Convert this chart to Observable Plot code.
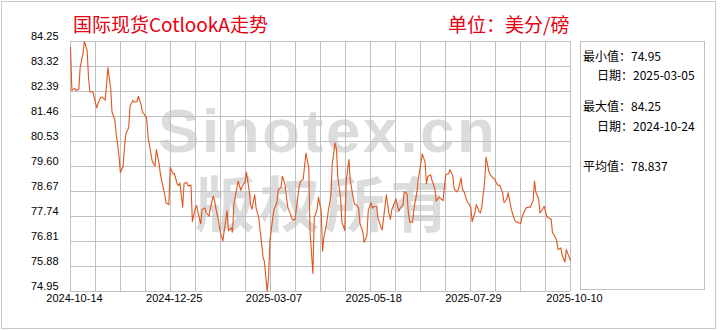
<!DOCTYPE html>
<html><head><meta charset="utf-8">
<script src="https://cdn.jsdelivr.net/npm/d3@7"></script>
<script src="https://cdn.jsdelivr.net/npm/@observablehq/plot@0.6"></script>
<style>
body{margin:0;background:#fff;}
#wrap{position:relative;width:720px;height:330px;overflow:hidden;background:#fff;}
#border{position:absolute;left:1px;top:1px;width:713px;height:326px;border:1px solid #c8c8c8;box-sizing:content-box;}
#chart{position:absolute;left:0;top:0;}
.t{position:absolute;white-space:nowrap;font-family:"Noto Sans CJK SC",sans-serif;line-height:1;}
.title{color:#e60012;font-size:19px;}
.stat{font-size:12px;color:#000;}
#panel{position:absolute;left:580px;top:41px;width:125px;height:249px;border:1px solid #c0c0c0;box-sizing:border-box;}
.wm{position:absolute;white-space:nowrap;color:#dcdcdc;line-height:1;}
</style></head>
<body>
<div id="wrap">
  <div class="wm" id="wm1" style="left:158px;top:100px;font-family:'Liberation Sans',Arial,sans-serif;font-weight:bold;font-size:62px;letter-spacing:2.6px;"></div>
  <div class="wm" id="wm2" style="left:195px;top:171px;font-family:'Noto Sans CJK SC',sans-serif;font-weight:bold;font-size:60px;letter-spacing:5px;"></div>
  <div id="chart"></div>
  <div id="border"></div>
  <div class="t title" id="title" style="left:73px;top:14px;"></div>
  <div class="t title" id="unit" style="left:448px;top:14px;"></div>
  <div id="panel"></div>
  <div class="t stat" id="s1" style="left:583px;top:50px;"></div>
  <div class="t stat" id="s2" style="left:597px;top:69px;"></div>
  <div class="t stat" id="s3" style="left:583px;top:100px;"></div>
  <div class="t stat" id="s4" style="left:597px;top:120px;"></div>
  <div class="t stat" id="s5" style="left:583px;top:160px;"></div>
</div>
<script>
const titleText = "国际现货CotlookA走势";
const unitText = "单位：美分/磅";
const watermark = ["Sinotex.cn", "版权所有"];
const statNames = ["最小值", "最大值", "平均值"];
const dateLabel = "日期";
const statValues = ["74.95", "84.25", "78.837"];
const statDates = ["2025-03-05", "2024-10-24"];

const yTicks = [74.95, 75.88, 76.81, 77.74, 78.67, 79.60, 80.53, 81.46, 82.39, 83.32, 84.25];
const xTickLabels = ["2024-10-14", "2024-12-25", "2025-03-07", "2025-05-18", "2025-07-29", "2025-10-10"];

const dates = [
"2024-10-14","2024-10-15","2024-10-17","2024-10-18","2024-10-20","2024-10-21","2024-10-23","2024-10-24","2024-10-26","2024-10-27",
"2024-10-28","2024-10-30","2024-10-31","2024-11-02","2024-11-03","2024-11-05","2024-11-06","2024-11-08","2024-11-09","2024-11-10",
"2024-11-12","2024-11-13","2024-11-15","2024-11-16","2024-11-18","2024-11-19","2024-11-21","2024-11-22","2024-11-23","2024-11-25",
"2024-11-26","2024-11-28","2024-11-29","2024-12-01","2024-12-02","2024-12-04","2024-12-05","2024-12-06","2024-12-08","2024-12-09",
"2024-12-11","2024-12-12","2024-12-14","2024-12-15","2024-12-17","2024-12-18","2024-12-19","2024-12-21","2024-12-22","2024-12-24",
"2024-12-25","2024-12-27","2024-12-28","2024-12-30","2024-12-31","2025-01-01","2025-01-03","2025-01-04","2025-01-06","2025-01-07",
"2025-01-09","2025-01-10","2025-01-12","2025-01-13","2025-01-14","2025-01-16","2025-01-17","2025-01-19","2025-01-20","2025-01-22",
"2025-01-23","2025-01-25","2025-01-26","2025-01-27","2025-01-29","2025-01-30","2025-02-01","2025-02-02","2025-02-04","2025-02-05",
"2025-02-07","2025-02-08","2025-02-09","2025-02-11","2025-02-12","2025-02-14","2025-02-15","2025-02-17","2025-02-18","2025-02-20",
"2025-02-21","2025-02-22","2025-02-24","2025-02-25","2025-02-27","2025-02-28","2025-03-02","2025-03-03","2025-03-05","2025-03-06",
"2025-03-07","2025-03-09","2025-03-10","2025-03-12","2025-03-13","2025-03-15","2025-03-16","2025-03-18","2025-03-19","2025-03-20",
"2025-03-22","2025-03-23","2025-03-25","2025-03-26","2025-03-28","2025-03-29","2025-03-31","2025-04-01","2025-04-02","2025-04-04",
"2025-04-05","2025-04-07","2025-04-08","2025-04-10","2025-04-11","2025-04-13","2025-04-14","2025-04-15","2025-04-17","2025-04-18",
"2025-04-20","2025-04-21","2025-04-23","2025-04-24","2025-04-25","2025-04-27","2025-04-28","2025-04-30","2025-05-01","2025-05-03",
"2025-05-04","2025-05-06","2025-05-07","2025-05-08","2025-05-10","2025-05-11","2025-05-13","2025-05-14","2025-05-16","2025-05-17",
"2025-05-19","2025-05-20","2025-05-21","2025-05-23","2025-05-24","2025-05-26","2025-05-27","2025-05-29","2025-05-30","2025-06-01",
"2025-06-02","2025-06-03","2025-06-05","2025-06-06","2025-06-08","2025-06-09","2025-06-11","2025-06-12","2025-06-14","2025-06-15",
"2025-06-16","2025-06-18","2025-06-19","2025-06-21","2025-06-22","2025-06-24","2025-06-25","2025-06-27","2025-06-28","2025-06-29",
"2025-07-01","2025-07-02","2025-07-04","2025-07-05","2025-07-07","2025-07-08","2025-07-10","2025-07-11","2025-07-12","2025-07-14",
"2025-07-15","2025-07-17","2025-07-18","2025-07-20","2025-07-21","2025-07-23","2025-07-24","2025-07-25","2025-07-27","2025-07-28",
"2025-07-30","2025-07-31","2025-08-02","2025-08-03","2025-08-05","2025-08-06","2025-08-07","2025-08-09","2025-08-10","2025-08-12",
"2025-08-13","2025-08-15","2025-08-16","2025-08-18","2025-08-19","2025-08-20","2025-08-22","2025-08-23","2025-08-25","2025-08-26",
"2025-08-28","2025-08-29","2025-08-31","2025-09-01","2025-09-02","2025-09-04","2025-09-05","2025-09-07","2025-09-08","2025-09-10",
"2025-09-11","2025-09-13","2025-09-14","2025-09-15","2025-09-17","2025-09-18","2025-09-20","2025-09-21","2025-09-23","2025-09-24",
"2025-09-26","2025-09-27","2025-09-28","2025-09-30","2025-10-01","2025-10-03","2025-10-04","2025-10-06","2025-10-07","2025-10-09",
"2025-10-10"
];
const prices = [
84.04,82.43,82.51,82.43,82.47,83.30,83.79,84.25,83.92,82.92,
82.37,82.39,82.20,81.78,81.97,82.18,82.17,82.07,82.61,83.28,
82.51,81.62,81.35,80.81,80.01,79.38,79.61,80.33,80.83,81.04,
81.84,82.06,81.99,82.02,82.22,81.89,81.61,81.56,81.40,80.69,
80.10,79.80,79.62,80.23,79.70,79.29,79.04,78.56,78.24,78.18,
79.57,79.33,79.34,78.95,78.89,78.99,78.09,78.98,79.00,78.88,
78.91,77.55,78.03,78.15,77.90,77.47,78.00,78.06,77.88,77.75,
78.03,78.50,78.33,78.03,77.55,77.18,76.83,77.22,77.96,77.21,
77.32,77.16,78.21,78.77,79.06,78.71,78.87,79.02,79.39,78.71,
78.19,78.01,78.55,78.05,77.68,77.19,76.23,76.07,74.95,75.48,
76.85,77.68,78.00,78.25,78.73,78.83,79.24,78.91,78.43,78.06,
77.80,77.64,77.61,78.00,78.83,79.04,79.13,79.60,80.10,79.57,
77.16,75.62,77.69,77.99,78.46,77.96,76.45,76.97,77.49,77.90,
78.52,79.70,80.48,80.26,79.20,78.42,77.53,77.22,79.02,79.86,
79.08,78.46,78.21,78.19,78.06,77.47,77.19,76.78,77.03,77.96,
78.26,78.05,78.11,78.11,77.69,77.37,77.24,78.09,78.55,77.84,
77.63,78.00,78.25,78.40,77.93,78.05,78.15,78.67,78.58,77.84,
77.53,77.53,78.03,78.61,79.08,79.74,80.07,79.76,78.95,79.23,
79.29,79.09,78.79,78.31,78.46,78.42,78.33,78.86,79.30,79.33,
79.48,79.26,78.77,78.66,78.73,79.18,78.74,78.68,78.36,78.25,
78.09,77.55,77.88,78.19,77.93,77.88,78.12,79.02,79.95,79.43,
79.30,79.18,79.14,78.94,78.89,78.90,78.62,78.25,78.40,78.62,
78.09,77.87,77.57,77.54,77.53,77.47,77.72,77.96,78.06,78.09,
78.09,78.33,79.06,78.64,78.40,77.87,78.03,78.12,77.72,77.69,
77.65,77.13,77.07,76.85,76.51,76.57,76.29,76.05,76.51,76.23,
76.10
];

const parse = d3.utcParse("%Y-%m-%d");
const data = dates.map((d, i) => ({date: parse(d), value: prices[i]}));
const x0 = parse(xTickLabels[0]), x1 = parse(xTickLabels[xTickLabels.length - 1]);
const gridDates = d3.range(21).map(j => new Date(+x0 + j * (x1 - x0) / 20));
const tickDates = xTickLabels.map(parse);

const chart = Plot.plot({
  width: 720, height: 330,
  marginLeft: 70, marginRight: 150, marginTop: 41, marginBottom: 39,
  style: {background: "transparent", fontFamily: "'Liberation Sans', Arial, sans-serif", fontSize: "11px", color: "#000", overflow: "visible"},
  x: {type: "utc", domain: [x0, x1], label: null},
  y: {domain: [yTicks[0], yTicks[yTicks.length - 1]], label: null},
  marks: [
    Plot.ruleX(gridDates, {stroke: "#c0c0c0", strokeWidth: 1}),
    Plot.ruleY(yTicks, {stroke: "#c0c0c0", strokeWidth: 1}),
    Plot.lineY(data, {x: "date", y: "value", stroke: "#e0561f", strokeWidth: 1.1}),
    Plot.axisY(yTicks, {tickSize: 0, tickPadding: 12, tickFormat: d => d.toFixed(2), dy: -5, fill: "#000", fontSize: 11, label: null}),
    Plot.axisX(tickDates, {tickSize: 0, tickPadding: 3, tickFormat: d3.utcFormat("%Y-%m-%d"), dx: 4, fill: "#000", fontSize: 11, label: null})
  ]
});
document.getElementById("chart").appendChild(chart);

document.getElementById("title").textContent = titleText;
document.getElementById("unit").textContent = unitText;
document.getElementById("wm1").textContent = watermark[0];
document.getElementById("wm2").textContent = watermark[1];
document.getElementById("s1").textContent = statNames[0] + "：" + statValues[0];
document.getElementById("s2").textContent = dateLabel + "：" + statDates[0];
document.getElementById("s3").textContent = statNames[1] + "：" + statValues[1];
document.getElementById("s4").textContent = dateLabel + "：" + statDates[1];
document.getElementById("s5").textContent = statNames[2] + "：" + statValues[2];
</script>
</body></html>
